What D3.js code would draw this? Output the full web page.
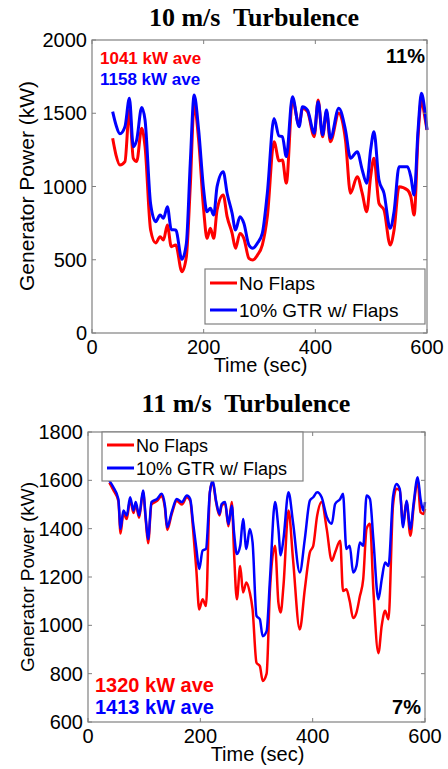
<!DOCTYPE html>
<html>
<head>
<meta charset="utf-8">
<script src="https://cdn.jsdelivr.net/npm/d3@7"></script>
<style>
  body { margin: 0; background: #fff; }
  svg { display: block; }
  text { font-family: "Liberation Sans", Arial, sans-serif; }
</style>
</head>
<body>
<svg id="chart" width="448" height="769"></svg>
<script>
// ---- data: 10 m/s panel ----
var time10 = [37,43,50,59,67,74,80,89,95,105,114,122,128,135,142,150,161,169,176,183,191,200,206,212,218,224,235,242,251,257,265,272,281,288,296,305,314,326,335,341,348,359,371,377,386,398,405,413,420,427,442,454,463,475,484,492,499,505,514,523,534,541,550,565,571,577,584,590,596,600];
var noFlaps10 = [1329,1215,1147,1170,1522,1192,1170,1397,1272,703,615,657,635,737,589,601,418,521,1000,1556,1317,840,646,715,646,840,942,794,680,578,680,646,510,498,530,600,794,1306,1175,1181,1022,1590,1420,1534,1511,1340,1590,1340,1511,1306,1500,1317,954,1067,954,828,1067,1193,885,840,601,703,999,976,931,805,1340,1590,1477,1386];
var flaps10 = [1511,1420,1360,1408,1602,1272,1317,1540,1454,880,760,805,783,862,705,703,503,612,1160,1625,1386,976,828,851,805,999,1101,954,817,703,794,749,601,578,612,680,955,1465,1345,1340,1204,1613,1408,1545,1522,1363,1579,1352,1522,1329,1534,1386,1193,1238,1113,1022,1249,1374,1044,954,715,828,1135,1135,1067,942,1386,1636,1522,1386];

// ---- data: 11 m/s panel ----
var time11 = [38,45,54,58,63,69,75,81,85,91,98,103,107,113,123,131,137,141,149,158,167,176,182,187,193,198,204,210,217,222,228,234,238,244,250,256,260,265,271,276,282,288,293,300,306,311,318,324,333,339,343,348,357,365,377,386,395,401,408,416,425,434,440,449,454,460,466,472,478,484,490,496,502,508,517,523,529,535,543,549,555,561,567,574,580,587,592,597,600];
var noFlaps11 = [1590,1560,1515,1380,1465,1440,1520,1465,1500,1445,1550,1430,1340,1500,1515,1535,1485,1395,1460,1515,1500,1530,1515,1400,1225,1066,1108,1080,1551,1592,1510,1455,1495,1505,1410,1510,1302,1108,1246,1136,1177,1136,1066,845,831,770,800,1149,1329,1094,1053,1163,1475,1274,983,1149,1302,1329,1454,1510,1399,1267,1302,1350,1142,1149,1100,1030,1053,1120,1191,1400,1420,1149,885,1000,1060,1025,1495,1565,1558,1420,1510,1371,1495,1599,1468,1461,1482];
var flaps11 = [1599,1572,1523,1399,1475,1454,1530,1475,1510,1454,1558,1440,1357,1510,1523,1544,1495,1406,1468,1523,1510,1537,1523,1426,1316,1233,1309,1316,1551,1599,1516,1461,1502,1510,1419,1495,1385,1295,1329,1440,1316,1399,1343,1039,1025,955,976,1191,1510,1400,1290,1357,1551,1426,1219,1357,1516,1530,1551,1530,1450,1420,1502,1523,1544,1316,1329,1219,1246,1343,1329,1537,1523,1357,1108,1191,1260,1246,1530,1585,1565,1406,1516,1399,1510,1613,1523,1475,1510];

var seriesNames = ["No Flaps", "10% GTR w/ Flaps"];
var seriesColors = ["#ff0000", "#0000ff"];
var xTicks = [0, 200, 400, 600];
var yTicks10 = [0, 500, 1000, 1500, 2000];
var yTicks11 = [600, 800, 1000, 1200, 1400, 1600, 1800];

var svg = d3.select("#chart");

function drawPanel(p) {
    var x = d3.scaleLinear().domain([0, 600]).range([p.left, p.right]);
    var y = d3.scaleLinear().domain(p.yDomain).range([p.bottom, p.top]);
    var g = svg.append("g");

    // title
    g.append("text")
        .attr("x", p.titleX).attr("y", p.titleY)
        .attr("text-anchor", "middle")
        .style("font-family", "'Liberation Serif', 'Times New Roman', serif")
        .style("font-weight", "bold")
        .style("font-size", "26px")
        .style("white-space", "pre")
        .text(p.title);

    // lines: red first, blue on top
    var series = [p.red, p.blue];
    series.forEach(function(vals, i) {
        var line = d3.line()
            .curve(d3.curveMonotoneX)
            .x(function(d, j) { return x(p.time[j]); })
            .y(function(d) { return y(d); });
        g.append("path")
            .datum(vals)
            .attr("d", line)
            .attr("fill", "none")
            .attr("stroke", seriesColors[i])
            .attr("stroke-width", p.lineWidth)
            .attr("stroke-linejoin", "round");
    });

    // frame
    g.append("rect")
        .attr("x", p.left).attr("y", p.top)
        .attr("width", p.right - p.left).attr("height", p.bottom - p.top)
        .attr("fill", "none").attr("stroke", "#808080").attr("stroke-width", 1.2);

    // inward ticks on all sides
    xTicks.forEach(function(t) {
        g.append("line").attr("x1", x(t)).attr("x2", x(t)).attr("y1", p.bottom).attr("y2", p.bottom - 4).attr("stroke", "#808080");
        g.append("line").attr("x1", x(t)).attr("x2", x(t)).attr("y1", p.top).attr("y2", p.top + 4).attr("stroke", "#808080");
        g.append("text")
            .attr("x", x(t)).attr("y", p.bottom + 21)
            .attr("text-anchor", "middle")
            .style("font-size", "20px")
            .text(t);
    });
    p.yTicks.forEach(function(t) {
        g.append("line").attr("x1", p.left).attr("x2", p.left + 4).attr("y1", y(t)).attr("y2", y(t)).attr("stroke", "#808080");
        g.append("line").attr("x1", p.right).attr("x2", p.right - 4).attr("y1", y(t)).attr("y2", y(t)).attr("stroke", "#808080");
        g.append("text")
            .attr("x", p.left - 5).attr("y", y(t) + 7)
            .attr("text-anchor", "end")
            .style("font-size", "20px")
            .text(t);
    });

    // axis labels
    g.append("text")
        .attr("x", (p.left + p.right) / 2 + 1).attr("y", p.bottom + 39)
        .attr("text-anchor", "middle")
        .style("font-size", "20px")
        .text("Time (sec)");
    g.append("text")
        .attr("transform", "translate(" + 34 + "," + p.yLabelY + ") rotate(-90)")
        .attr("text-anchor", "middle")
        .style("font-size", p.yLabelSize)
        .text("Generator Power (kW)");

    // legend
    var L = p.legend;
    g.append("rect")
        .attr("x", L.x).attr("y", L.y).attr("width", L.w).attr("height", L.h)
        .attr("fill", "#fff").attr("stroke", "#808080").attr("stroke-width", 1.2);
    seriesNames.forEach(function(name, i) {
        var ly = L.y + L.row0 + i * L.rowGap;
        g.append("line")
            .attr("x1", L.x + 5).attr("x2", L.x + 32)
            .attr("y1", ly).attr("y2", ly)
            .attr("stroke", seriesColors[i]).attr("stroke-width", 3);
        g.append("text")
            .attr("x", L.x + 34).attr("y", ly + 7)
            .style("font-size", L.fontSize)
            .text(name);
    });

    // averages and percentage
    var A = p.ann;
    g.append("text").attr("x", A.x).attr("y", A.y1)
        .attr("fill", "#ff0000").style("font-weight", "bold").style("font-size", A.size)
        .text(A.redText);
    g.append("text").attr("x", A.x).attr("y", A.y2)
        .attr("fill", "#0000ff").style("font-weight", "bold").style("font-size", A.size)
        .text(A.blueText);
    g.append("text").attr("x", A.pctX).attr("y", A.pctY)
        .attr("text-anchor", "end")
        .style("font-weight", "bold").style("font-size", "20px")
        .text(A.pct);
}

drawPanel({
    title: "10 m/s  Turbulence", titleX: 254, titleY: 26,
    left: 92, right: 427, top: 40, bottom: 333,
    yDomain: [0, 2000], yTicks: yTicks10,
    time: time10, red: noFlaps10, blue: flaps10, lineWidth: 3,
    yLabelY: 186, yLabelSize: "21px",
    legend: { x: 205, y: 269, w: 220, h: 55, row0: 14, rowGap: 27, fontSize: "19px" },
    ann: { x: 100, y1: 64, y2: 85, size: "17px", redText: "1041 kW ave", blueText: "1158 kW ave", pctX: 425, pctY: 63, pct: "11%" }
});

drawPanel({
    title: "11 m/s  Turbulence", titleX: 246, titleY: 412,
    left: 88, right: 425, top: 432, bottom: 722,
    yDomain: [600, 1800], yTicks: yTicks11,
    time: time11, red: noFlaps11, blue: flaps11, lineWidth: 2.5,
    yLabelY: 577, yLabelSize: "19px",
    legend: { x: 102, y: 432, w: 201, h: 49, row0: 13, rowGap: 23, fontSize: "18px" },
    ann: { x: 95, y1: 692, y2: 714, size: "20px", redText: "1320 kW ave", blueText: "1413 kW ave", pctX: 421, pctY: 714, pct: "7%" }
});
</script>
</body>
</html>
